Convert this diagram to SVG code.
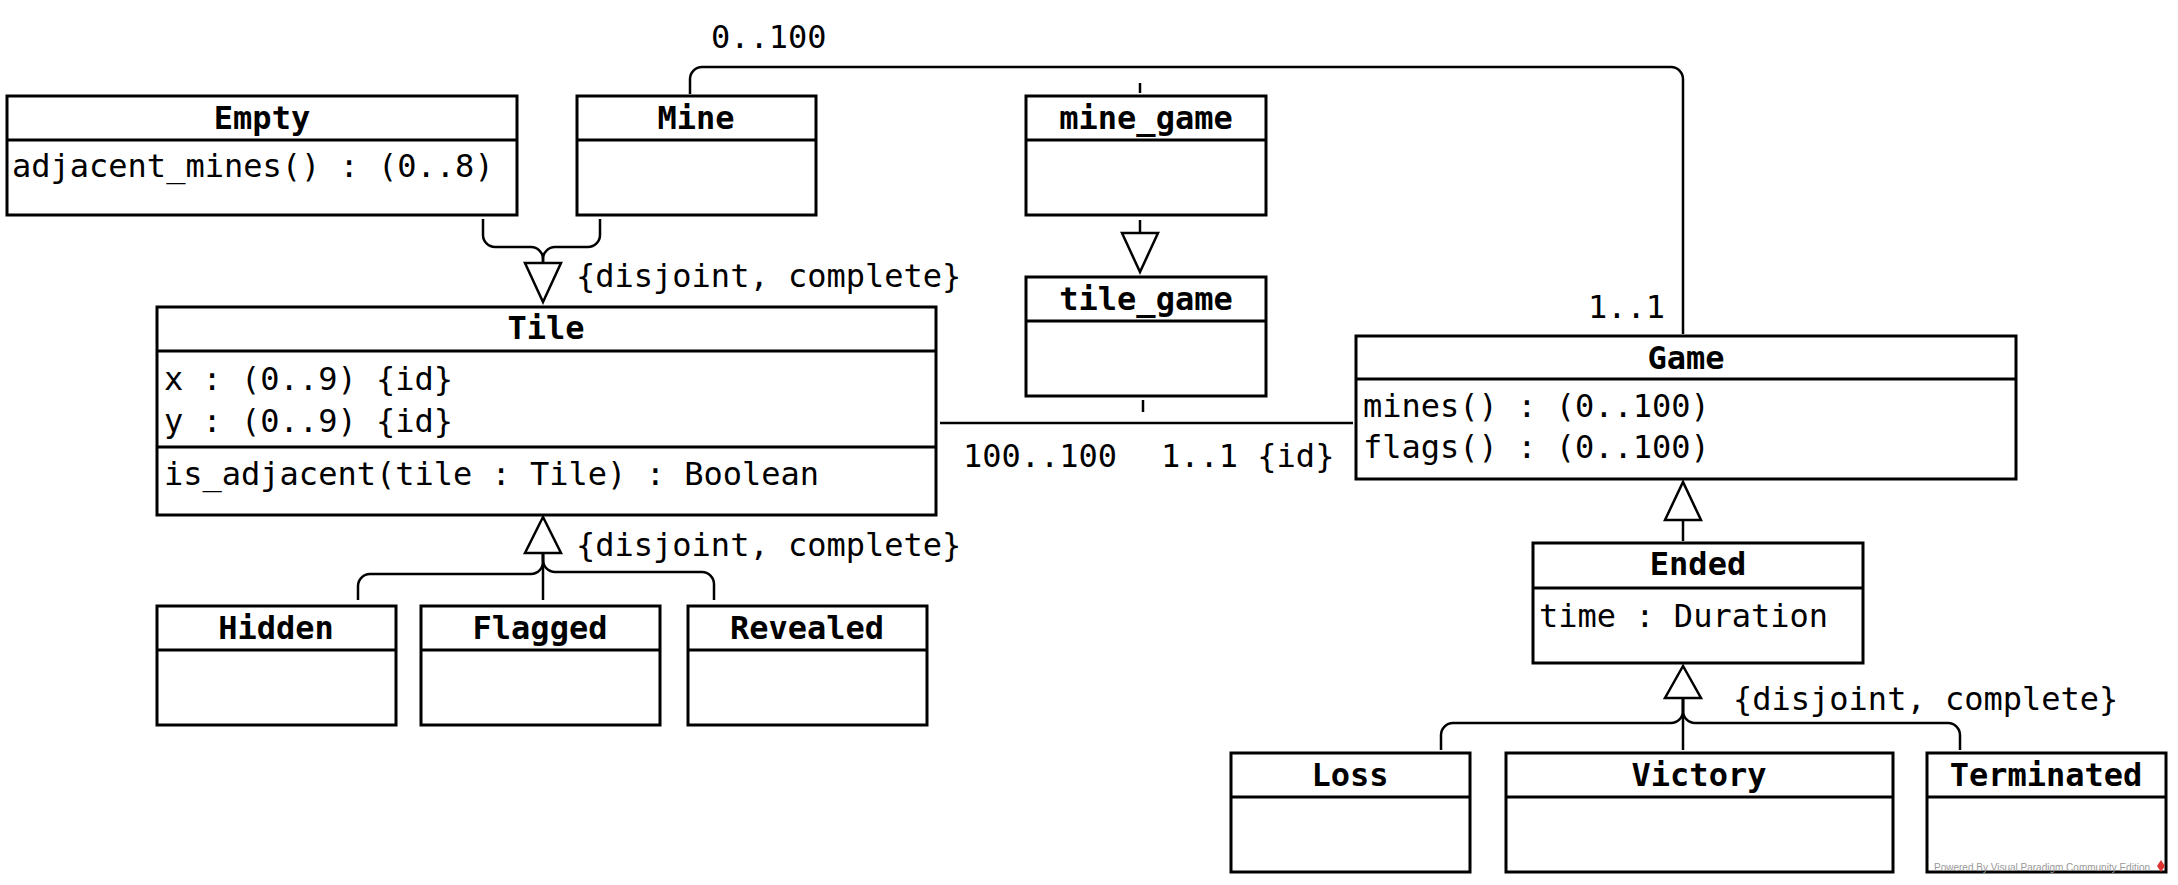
<svg xmlns="http://www.w3.org/2000/svg" width="2178" height="885" viewBox="0 0 2178 885">
<style>
.box{fill:#fff;stroke:#000;stroke-width:3}
.div{stroke:#000;stroke-width:3}
.t{font-family:"DejaVu Sans Mono","Liberation Mono",monospace;font-size:32px;fill:#000}
.h{font-family:"DejaVu Sans Mono","Liberation Mono",monospace;font-size:32px;font-weight:bold;fill:#000;text-anchor:middle}
.c{fill:none;stroke:#000;stroke-width:2.5}
.tri{fill:#fff;stroke:#000;stroke-width:2.5;stroke-linejoin:miter}
.wm{font-family:"Liberation Sans",Arial,sans-serif;font-size:10px;fill:#999}
</style>
<rect width="2178" height="885" fill="#fff"/>
<g id="connectors">
<path class="c" d="M483,219 V235 a12,12 0 0 0 12,12 H531 a12,12 0 0 1 12,12 V263"/>
<path class="c" d="M600,219 V235 a12,12 0 0 1 -12,12 H555 a12,12 0 0 0 -12,12 V263"/>
<polygon class="tri" points="525,263 561,263 543,302"/>
<path class="c" d="M358,600 V586 a12,12 0 0 1 12,-12 H531 a12,12 0 0 0 12,-12 V553"/>
<path class="c" d="M543,600 V553"/>
<path class="c" d="M714,600 V584 a12,12 0 0 0 -12,-12 H555 a12,12 0 0 1 -12,-12 V553"/>
<polygon class="tri" points="543,517 525,553 561,553"/>
<path class="c" d="M1140,220 V233"/>
<polygon class="tri" points="1122,233 1158,233 1140,272"/>
<path class="c" d="M1140,83 V93"/>
<path class="c" d="M1143,400 V412"/>
<path class="c" d="M690,94 V79 a12,12 0 0 1 12,-12 H1671 a12,12 0 0 1 12,12 V334"/>
<path class="c" d="M940,423 H1353"/>
<path class="c" d="M1683,541 V520"/>
<polygon class="tri" points="1665,520 1701,520 1683,482"/>
<path class="c" d="M1441,750 V735 a12,12 0 0 1 12,-12 H1671 a12,12 0 0 0 12,-12 V698"/>
<path class="c" d="M1683,750 V698"/>
<path class="c" d="M1960,750 V735 a12,12 0 0 0 -12,-12 H1695 a12,12 0 0 1 -12,-12 V698"/>
<polygon class="tri" points="1683,666 1665,698 1701,698"/>
<text class="t" x="711" y="48">0..100</text>
<text class="t" x="576" y="287">{disjoint, complete}</text>
<text class="t" x="1588" y="318">1..1</text>
<text class="t" x="963" y="467">100..100</text>
<text class="t" x="1161" y="467">1..1 {id}</text>
<text class="t" x="576" y="556">{disjoint, complete}</text>
<text class="t" x="1733" y="710">{disjoint, complete}</text>
</g>
<g id="Empty">
<rect class="box" x="7" y="96" width="510" height="119"/>
<line class="div" x1="7" y1="140" x2="517" y2="140"/>
<text class="h" x="262" y="129">Empty</text>
<text class="t" x="12" y="177">adjacent_mines() : (0..8)</text>
</g>
<g id="Mine">
<rect class="box" x="577" y="96" width="239" height="119"/>
<line class="div" x1="577" y1="140" x2="816" y2="140"/>
<text class="h" x="696" y="129">Mine</text>
</g>
<g id="mine_game">
<rect class="box" x="1026" y="96" width="240" height="119"/>
<line class="div" x1="1026" y1="140" x2="1266" y2="140"/>
<text class="h" x="1146" y="129">mine_game</text>
</g>
<g id="tile_game">
<rect class="box" x="1026" y="277" width="240" height="119"/>
<line class="div" x1="1026" y1="321" x2="1266" y2="321"/>
<text class="h" x="1146" y="310">tile_game</text>
</g>
<g id="Tile">
<rect class="box" x="157" y="307" width="779" height="208"/>
<line class="div" x1="157" y1="351" x2="936" y2="351"/>
<line class="div" x1="157" y1="447" x2="936" y2="447"/>
<text class="h" x="546" y="339">Tile</text>
<text class="t" x="164" y="390">x : (0..9) {id}</text>
<text class="t" x="164" y="432">y : (0..9) {id}</text>
<text class="t" x="164" y="485">is_adjacent(tile : Tile) : Boolean</text>
</g>
<g id="Game">
<rect class="box" x="1356" y="336" width="660" height="143"/>
<line class="div" x1="1356" y1="379" x2="2016" y2="379"/>
<text class="h" x="1686" y="369">Game</text>
<text class="t" x="1363" y="417">mines() : (0..100)</text>
<text class="t" x="1363" y="458">flags() : (0..100)</text>
</g>
<g id="Ended">
<rect class="box" x="1533" y="543" width="330" height="120"/>
<line class="div" x1="1533" y1="588" x2="1863" y2="588"/>
<text class="h" x="1698" y="575">Ended</text>
<text class="t" x="1539" y="627">time : Duration</text>
</g>
<g id="Hidden">
<rect class="box" x="157" y="606" width="239" height="119"/>
<line class="div" x1="157" y1="650" x2="396" y2="650"/>
<text class="h" x="276" y="639">Hidden</text>
</g>
<g id="Flagged">
<rect class="box" x="421" y="606" width="239" height="119"/>
<line class="div" x1="421" y1="650" x2="660" y2="650"/>
<text class="h" x="540" y="639">Flagged</text>
</g>
<g id="Revealed">
<rect class="box" x="688" y="606" width="239" height="119"/>
<line class="div" x1="688" y1="650" x2="927" y2="650"/>
<text class="h" x="807" y="639">Revealed</text>
</g>
<g id="Loss">
<rect class="box" x="1231" y="753" width="239" height="119"/>
<line class="div" x1="1231" y1="797" x2="1470" y2="797"/>
<text class="h" x="1350" y="786">Loss</text>
</g>
<g id="Victory">
<rect class="box" x="1506" y="753" width="387" height="119"/>
<line class="div" x1="1506" y1="797" x2="1893" y2="797"/>
<text class="h" x="1699" y="786">Victory</text>
</g>
<g id="Terminated">
<rect class="box" x="1927" y="753" width="239" height="119"/>
<line class="div" x1="1927" y1="797" x2="2166" y2="797"/>
<text class="h" x="2046" y="786">Terminated</text>
</g>
<g id="watermark">
<text class="wm" x="1934" y="871">Powered By Visual Paradigm Community Edition</text>
<path d="M2161,860 l4,6 l-4,6 l-4,-6 z" fill="#d33"/>
</g>
</svg>
